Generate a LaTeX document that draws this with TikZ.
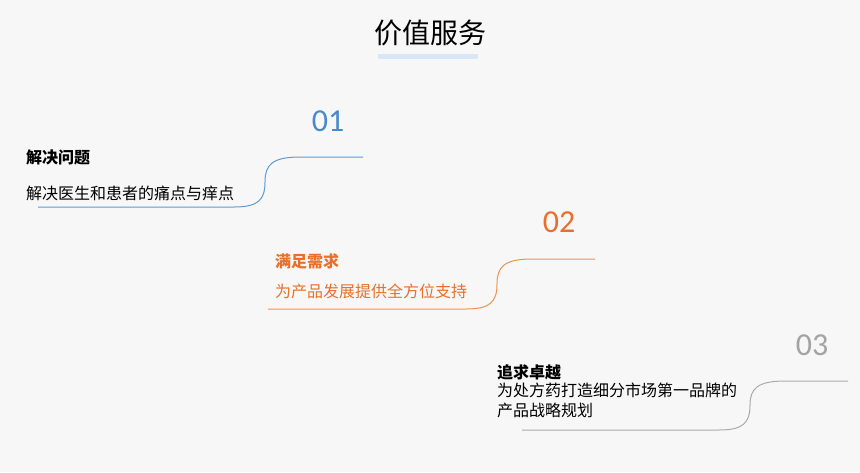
\documentclass[tikz,border=0pt]{standalone}
\usepackage{fontspec}
\setmainfont{Noto Sans CJK SC}
\newfontfamily\numfont{Carlito}
\definecolor{bg}{HTML}{F7F7F7}
\definecolor{bluenum}{HTML}{4A8ACB}
\definecolor{blueline}{HTML}{5B9BD5}
\definecolor{orangetxt}{HTML}{E8702A}
\definecolor{orangeline}{HTML}{EE9152}
\definecolor{greynum}{HTML}{A3A3A3}
\definecolor{greyline}{HTML}{ABABAB}
\definecolor{barblue}{HTML}{D9E6F8}
\tikzset{
  head/.style={anchor=west,inner sep=0pt,font=\fontsize{16}{20}\selectfont\bfseries},
  desc/.style={anchor=west,inner sep=0pt,align=left,font=\fontsize{16}{20}\selectfont},
  num/.style={inner sep=0pt,font=\numfont\fontsize{32}{32}\selectfont},
  wave/.style={line width=1pt},
}
\begin{document}
\begin{tikzpicture}[x=1pt,y=-1pt]
  \fill[bg] (0,0) rectangle (860,472);
  \useasboundingbox (0,0) rectangle (860,472);
  %% title
  \node[inner sep=0pt,font=\fontsize{28}{30}\selectfont] (title) at (430,33) {价值服务};
  \fill[barblue] (378,54) rectangle (478,59);
  %% 01
  \node[num,text=bluenum] (n1) at (328,121) {01};
  \node[head] (h1) at (26,157) {解决问题};
  \node[desc] (d1) at (26,193) {解决医生和患者的痛点与痒点};
  \coordinate (a1) at (38,207);
  \coordinate (b1) at (363,157);
  \draw[wave,blueline] (a1) -- (234,207) .. controls (258,207) and (265,200) .. (265,182)
    .. controls (265,165) and (272,157) .. (300,157) -- (b1);
  %% 02
  \node[num,text=orangetxt] (n2) at (559,222) {02};
  \node[head,text=orangetxt] (h2) at (275,261) {满足需求};
  \node[desc,text=orangetxt] (d2) at (275,291) {为产品发展提供全方位支持};
  \coordinate (a2) at (268,309);
  \coordinate (b2) at (595,259);
  \draw[wave,orangeline] (a2) -- (466,309) .. controls (490,309) and (497,302) .. (497,284)
    .. controls (497,267) and (504,259) .. (532,259) -- (b2);
  %% 03
  \node[num,text=greynum] (n3) at (812,345) {03};
  \node[head] (h3) at (497,372) {追求卓越};
  \node[desc,anchor=north west] (d3) at (497,383) {为处方药打造细分市场第一品牌的\\产品战略规划};
  \coordinate (a3) at (522,430);
  \coordinate (b3) at (848,381);
  \draw[wave,greyline] (a3) -- (719,430) .. controls (743,430) and (750,423) .. (750,405)
    .. controls (750,389) and (757,381) .. (785,381) -- (b3);
\end{tikzpicture}
\end{document}
